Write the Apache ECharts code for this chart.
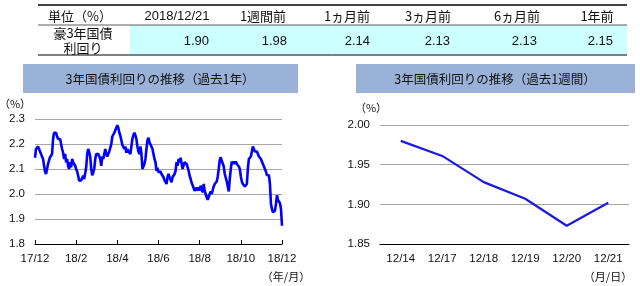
<!DOCTYPE html>
<html><head><meta charset="utf-8">
<script src="https://cdn.jsdelivr.net/npm/echarts@6/dist/echarts.min.js"></script>
<style>html,body{margin:0;padding:0;background:#fff}#c{width:640px;height:286px}</style>
</head><body><div id="c"></div>
<script>
// ---- Data ----
const tableHeaders = ['2018/12/21','1週間前','1ヵ月前','3ヵ月前','6ヵ月前','1年前'];
const tableValues = ['1.90','1.98','2.14','2.13','2.13','2.15'];
const yearTickLabels = ['17/12','18/2','18/4','18/6','18/8','18/10','18/12'];
const yearValues = [
2.145,2.18,2.187,2.19,2.18,2.173,2.16,2.15,2.14,2.133,
2.09,2.08,2.08,2.12,2.135,2.147,2.15,2.16,2.22,2.245,
2.245,2.245,2.23,2.22,2.22,2.22,2.22,2.18,2.165,2.14,
2.16,2.127,2.14,2.113,2.10,2.127,2.107,2.14,2.127,2.12,
2.113,2.10,2.09,2.073,2.053,2.06,2.055,2.06,2.073,2.06,
2.067,2.107,2.16,2.18,2.167,2.15,2.10,2.075,2.085,2.10,
2.14,2.16,2.153,2.16,2.155,2.14,2.113,2.15,2.14,2.14,
2.18,2.16,2.15,2.155,2.17,2.175,2.20,2.23,2.235,2.245,
2.255,2.265,2.275,2.265,2.245,2.233,2.215,2.196,2.20,2.18,
2.19,2.165,2.18,2.17,2.175,2.16,2.19,2.22,2.235,2.245,
2.235,2.22,2.19,2.17,2.16,2.19,2.16,2.10,2.095,2.12,
2.14,2.18,2.215,2.225,2.207,2.20,2.19,2.18,2.16,2.14,
2.127,2.093,2.105,2.087,2.09,2.09,2.08,2.075,2.067,2.055,
2.047,2.04,2.067,2.08,2.067,2.065,2.047,2.067,2.072,2.08,
2.093,2.127,2.113,2.14,2.127,2.145,2.153,2.10,2.115,2.127,
2.133,2.12,2.107,2.093,2.073,2.06,2.045,2.035,2.027,2.013,
2.02,2.025,2.013,2.027,2.013,2.033,2.02,2.007,2.04,2.013,
2.0,1.987,1.977,1.985,2.0,2.01,2.0,2.015,2.03,2.04,
2.04,2.05,2.07,2.10,2.135,2.147,2.133,2.14,2.11,2.08,
2.065,2.05,2.03,2.01,2.06,2.10,2.13,2.12,2.13,2.12,
2.13,2.12,2.125,2.11,2.10,2.07,2.05,2.04,2.035,2.03,
2.027,2.04,2.10,2.14,2.145,2.15,2.17,2.19,2.185,2.17,
2.165,2.17,2.16,2.15,2.145,2.14,2.13,2.12,2.11,2.10,
2.09,2.075,2.08,2.075,2.04,1.96,1.94,1.927,1.93,1.933,
1.96,1.995,1.976,1.97,1.963,1.94,1.873
];
const weekCategories = ['12/14','12/17','12/18','12/19','12/20','12/21'];
const weekValues = [1.98,1.961,1.928,1.907,1.873,1.902];

// ---- Chart ----
const JP = '"Noto Sans CJK JP"';
const AR = '"Liberation Sans", Arial';
const chart = echarts.init(document.getElementById('c'), null, {renderer:'canvas'});
const step = (yearValues.length - 1) / (yearTickLabels.length - 1);

const g = [];
// table
g.push({type:'rect', shape:{x:130,y:25,width:497,height:29.5}, style:{fill:'#ccffff'}});
g.push({type:'line', shape:{x1:38,y1:5,x2:627,y2:5}, style:{stroke:'#000',lineWidth:1.5}});
g.push({type:'line', shape:{x1:38,y1:25,x2:627,y2:25}, style:{stroke:'#333',lineWidth:0.8}});
g.push({type:'line', shape:{x1:38,y1:55,x2:627,y2:55}, style:{stroke:'#000',lineWidth:1}});
g.push({type:'text', x:80, y:16, style:{text:'単位（%）', font:'13px '+JP, fill:'#111', textAlign:'center', textVerticalAlign:'middle'}});
g.push({type:'text', x:83, y:33, style:{text:'豪3年国債', font:'13px '+JP, fill:'#111', textAlign:'center', textVerticalAlign:'middle'}});
g.push({type:'text', x:83, y:48, style:{text:'利回り', font:'13px '+JP, fill:'#111', textAlign:'center', textVerticalAlign:'middle'}});
const hdrX = [177,263,347,428,517,597];
const valX = [209,287,370,450,537,613];
tableHeaders.forEach((h,i)=>{
  g.push({type:'text', x:hdrX[i], y:16, style:{text:h, font:(i===0?'13px '+AR:'13px '+JP), fill:'#111', textAlign:'center', textVerticalAlign:'middle'}});
});
tableValues.forEach((v,i)=>{
  g.push({type:'text', x:valX[i], y:41, style:{text:v, font:'13px '+AR, fill:'#111', textAlign:'right', textVerticalAlign:'middle'}});
});
// title bars
g.push({type:'rect', shape:{x:23,y:64,width:275,height:29}, style:{fill:'#9ab2d8'}});
g.push({type:'text', x:160, y:79, style:{text:'3年国債利回りの推移（過去1年）', font:'12.5px '+JP, fill:'#111', textAlign:'center', textVerticalAlign:'middle'}});
g.push({type:'rect', shape:{x:356,y:64,width:279,height:29}, style:{fill:'#9ab2d8'}});
g.push({type:'text', x:495, y:79, style:{text:'3年国債利回りの推移（過去1週間）', font:'12.5px '+JP, fill:'#111', textAlign:'center', textVerticalAlign:'middle'}});
// unit labels
g.push({type:'text', x:15, y:104, style:{text:'（%）', font:'11px '+JP, fill:'#111', textAlign:'center', textVerticalAlign:'middle'}});
g.push({type:'text', x:371, y:108, style:{text:'（%）', font:'11px '+JP, fill:'#111', textAlign:'center', textVerticalAlign:'middle'}});
g.push({type:'text', x:286, y:277, style:{text:'（年/月）', font:'11px '+JP, fill:'#111', textAlign:'center', textVerticalAlign:'middle'}});
g.push({type:'text', x:608, y:277, style:{text:'（月/日）', font:'11px '+JP, fill:'#111', textAlign:'center', textVerticalAlign:'middle'}});

const yAxisCommon = {
  type:'value', axisLine:{show:false}, axisTick:{show:false},
  splitLine:{lineStyle:{color:'#a6a6a6', width:1}},
  axisLabel:{color:'#111', fontSize:11.5, fontFamily:AR, margin:10}
};

chart.setOption({
  animation:false,
  graphic:g,
  grid:[
    {left:35, right:358, top:119, bottom:42},
    {left:380, right:11, top:125, bottom:42}
  ],
  xAxis:[
    {type:'value', gridIndex:0, min:0, max:yearValues.length-1, interval:step,
     axisLine:{lineStyle:{color:'#000', width:1.2}},
     axisTick:{inside:true, length:4, lineStyle:{color:'#000'}},
     splitLine:{show:false},
     axisLabel:{color:'#111', fontSize:11.5, fontFamily:AR, margin:9,
       formatter:v=>yearTickLabels[Math.round(v/step)] || ''}},
    {type:'category', gridIndex:1, data:weekCategories, boundaryGap:true,
     axisLine:{lineStyle:{color:'#000', width:1.2}},
     axisTick:{inside:true, length:4, lineStyle:{color:'#000'}},
     axisLabel:{color:'#111', fontSize:11.5, fontFamily:AR, margin:9}}
  ],
  yAxis:[
    Object.assign({}, yAxisCommon, {gridIndex:0, min:1.8, max:2.3, interval:0.1,
      axisLabel:Object.assign({}, yAxisCommon.axisLabel, {formatter:v=>v.toFixed(1)})}),
    Object.assign({}, yAxisCommon, {gridIndex:1, min:1.85, max:2.0, interval:0.05,
      axisLabel:Object.assign({}, yAxisCommon.axisLabel, {formatter:v=>v.toFixed(2)})})
  ],
  series:[
    {type:'line', xAxisIndex:0, yAxisIndex:0, showSymbol:false,
     data:yearValues.map((v,i)=>[i,v]),
     lineStyle:{color:'#0000ff', width:2.6}},
    {type:'line', xAxisIndex:1, yAxisIndex:1, showSymbol:false,
     data:weekValues, lineStyle:{color:'#1a1ad8', width:2.2}}
  ]
});
</script></body></html>
